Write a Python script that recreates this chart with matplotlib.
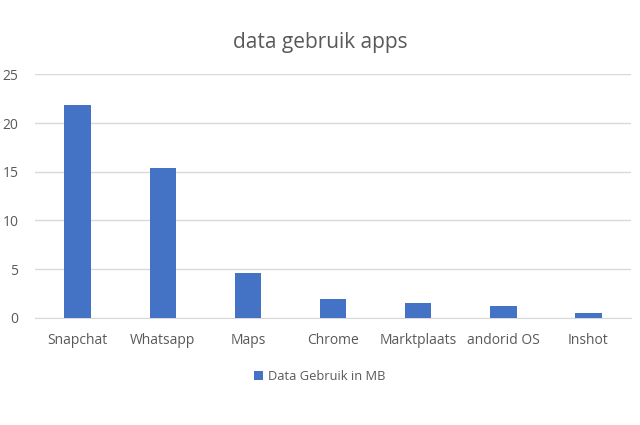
import matplotlib.pyplot as plt

apps = ['Snapchat', 'Whatsapp', 'Maps', 'Chrome', 'Marktplaats', 'andorid OS', 'Inshot']
data_mb = [21.9, 15.4, 4.6, 1.9, 1.5, 1.2, 0.5]
yticks = [0, 5, 10, 15, 20, 25]

plt.rcParams['font.family'] = ['Open Sans', 'DejaVu Sans']

fig = plt.figure(figsize=(6.4, 4.25), dpi=100)
ax = fig.add_axes([0.0547, 0.2525, 0.9313, 0.5725])

x = range(len(apps))
ax.bar(x, data_mb, width=0.31, color='#4472c4', label='Data Gebruik in MB', zorder=3)

ax.set_xlim(-0.5, len(apps) - 0.5)
ax.set_ylim(0, 25)
ax.set_yticks(yticks)
ax.set_xticks(list(x))
ax.set_xticklabels(apps)
ax.yaxis.grid(True, color='#d9d9d9', linewidth=1, zorder=0)
for s in ['top', 'right', 'left']:
    ax.spines[s].set_visible(False)
ax.spines['bottom'].set_color('#d9d9d9')
ax.tick_params(axis='both', length=0, colors='#595959', labelsize=10)
ax.tick_params(axis='x', pad=11)
ax.tick_params(axis='y', pad=12)

fig.text(0.5, 0.9, 'data gebruik apps', ha='center', va='center', fontsize=15, color='#595959')
fig.legend(loc='center', bbox_to_anchor=(0.5, 0.115), frameon=False, fontsize=9.3,
           labelcolor='#595959', handlelength=0.7, handleheight=0.7, handletextpad=0.4)

fig.savefig('out.png', dpi=100)
